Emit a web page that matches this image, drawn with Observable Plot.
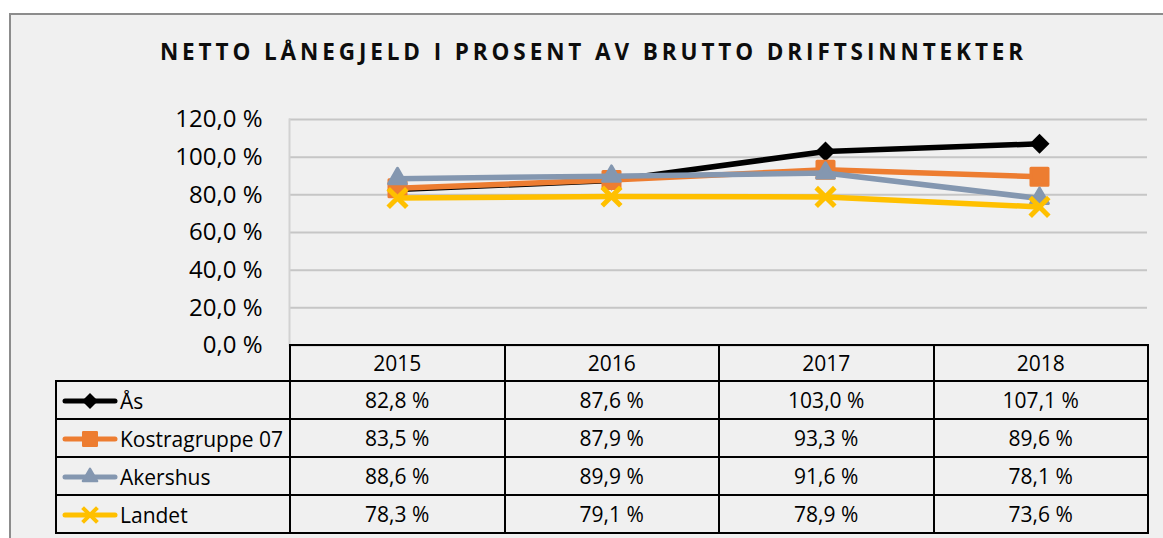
<!DOCTYPE html>
<html>
<head>
<meta charset="utf-8">
<script src="https://cdn.jsdelivr.net/npm/d3@7"></script>
<script src="https://cdn.jsdelivr.net/npm/@observablehq/plot@0.6"></script>
<style>
  html, body { margin:0; padding:0; background:#fff; }
  body { width:1163px; height:538px; overflow:hidden; position:relative; font-family:"Open Sans", sans-serif; }
  #box { position:absolute; left:9px; top:13px; width:1170px; height:540px; background:#f0f0f0; border:2px solid #8c8c8c; box-sizing:border-box; }
  #title { position:absolute; left:0; top:41px; width:1187px; text-align:center; font-weight:700; font-size:22.5px; line-height:22.5px; letter-spacing:3.9px; color:#0d0d0d; white-space:nowrap; }
  #chart { position:absolute; left:0; top:0; }
  #tbl { position:absolute; left:55px; top:344px; border-collapse:collapse; table-layout:fixed; font-size:21px; color:#000; }
  #tbl td { border:2px solid #000; padding:0; text-align:center; vertical-align:middle; white-space:nowrap; }
  #tbl tr.head td { height:34px; }
  #tbl tr.body td { height:36px; }
  #tbl td.corner { border-top:none; border-left:none; }
  #tbl td.lab { text-align:left; padding-left:5px; }
  #tbl td.lab svg { vertical-align:middle; margin-right:2px; }
  #tbl td.lab span { vertical-align:middle; }
</style>
</head>
<body>
<div id="box"></div>
<div id="title"></div>
<div id="chart"></div>
<table id="tbl"></table>
<script>
const titleText = "NETTO LÅNEGJELD I PROSENT AV BRUTTO DRIFTSINNTEKTER";
const years = ["2015", "2016", "2017", "2018"];
const seriesNames = ["Ås", "Kostragruppe 07", "Akershus", "Landet"];
const aas = [82.8, 87.6, 103.0, 107.1];
const kostragruppe = [83.5, 87.9, 93.3, 89.6];
const akershus = [88.6, 89.9, 91.6, 78.1];
const landet = [78.3, 79.1, 78.9, 73.6];
const yTicks = [0, 20, 40, 60, 80, 100, 120];
const colors = ["#000000", "#ED7D31", "#8497B0", "#FFC000"];

const values = [aas, kostragruppe, akershus, landet];
const fmt = d => d.toFixed(1).replace(".", ",") + " %";

document.getElementById("title").textContent = titleText;

const rows = [];
seriesNames.forEach((s, i) => years.forEach((y, j) => rows.push({series: s, year: y, value: values[i][j]})));

const symbolSpecs = [
  {symbol: "diamond2", r: 9, fill: colors[0], stroke: "none", strokeWidth: 0},
  {symbol: "square", r: 9.6, fill: colors[1], stroke: colors[1], strokeWidth: 3},
  {symbol: "triangle", r: 6.6, fill: colors[2], stroke: colors[2], strokeWidth: 3},
  {symbol: "times", r: 8.5, fill: "none", stroke: colors[3], strokeWidth: 5}
];

const marks = [
  Plot.ruleY(yTicks, {stroke: "#c6c6c6", strokeWidth: 2}),
  Plot.frame({anchor: "left", stroke: "#d2d2d2", strokeWidth: 2})
];
seriesNames.forEach((s, i) => {
  const d = rows.filter(r => r.series === s);
  marks.push(Plot.line(d, {x: "year", y: "value", stroke: colors[i], strokeWidth: 5.5}));
  const sp = symbolSpecs[i];
  marks.push(Plot.dot(d, {x: "year", y: "value", symbol: () => sp.symbol, r: sp.r, fill: sp.fill, stroke: sp.stroke, strokeWidth: sp.strokeWidth, strokeLinejoin: "round"}));
});

const chart = Plot.plot({
  width: 1163,
  height: 538,
  marginLeft: 289,
  marginRight: 16,
  marginTop: 119,
  marginBottom: 193,
  x: {type: "point", domain: years, padding: 0.5, axis: null},
  y: {domain: [0, 120], ticks: yTicks, tickFormat: fmt, tickSize: 0, tickPadding: 27, label: null},
  symbol: {type: "identity"},
  style: {background: "transparent", fontFamily: "Open Sans", fontSize: "24px", color: "#000", overflow: "visible"},
  marks
});
document.getElementById("chart").appendChild(chart);

// data table
const tbl = d3.select("#tbl");
const colgroup = tbl.append("colgroup");
colgroup.append("col").style("width", "234px");
years.forEach(() => colgroup.append("col").style("width", "214.5px"));
const head = tbl.append("tr").attr("class", "head");
head.append("td").attr("class", "corner");
years.forEach(y => head.append("td").text(y));
seriesNames.forEach((s, i) => {
  const tr = tbl.append("tr").attr("class", "body");
  const lab = tr.append("td").attr("class", "lab");
  const sw = lab.append("svg").attr("width", 56).attr("height", 22);
  sw.append("line").attr("x1", 3).attr("x2", 53).attr("y1", 11).attr("y2", 11)
    .attr("stroke", colors[i]).attr("stroke-width", 5).attr("stroke-linecap", "round");
  const sp = symbolSpecs[i];
  const symType = {diamond2: d3.symbolDiamond2, square: d3.symbolSquare, triangle: d3.symbolTriangle, times: d3.symbolTimes}[sp.symbol];
  const size = Math.PI * Math.pow(sp.r * 0.8, 2);
  sw.append("path").attr("transform", "translate(28,11)")
    .attr("d", d3.symbol(symType, size)())
    .attr("fill", sp.fill).attr("stroke", sp.stroke).attr("stroke-width", sp.strokeWidth * 0.8)
    .attr("stroke-linejoin", "round");
  lab.append("span").text(s);
  values[i].forEach(v => tr.append("td").text(fmt(v)));
});
</script>
</body>
</html>
